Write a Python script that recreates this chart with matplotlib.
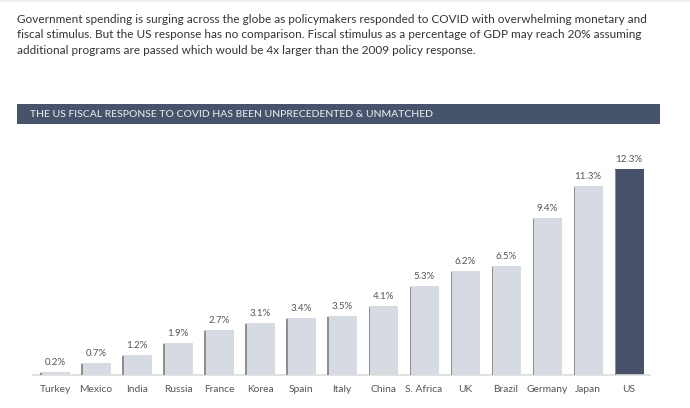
import matplotlib
matplotlib.use("Agg")
import matplotlib.pyplot as plt
from matplotlib.patches import Rectangle

countries = ["Turkey", "Mexico", "India", "Russia", "France", "Korea", "Spain", "Italy",
             "China", "S. Africa", "UK", "Brazil", "Germany", "Japan", "US"]
values = [0.2, 0.7, 1.2, 1.9, 2.7, 3.1, 3.4, 3.5, 4.1, 5.3, 6.2, 6.5, 9.4, 11.3, 12.3]
labels = [f"{v}%" for v in values]

W, H = 690, 408
fig = plt.figure(figsize=(W / 100, H / 100), dpi=100)
fig.patch.set_facecolor("white")
plt.rcParams['font.family'] = ['Lato', 'DejaVu Sans']

# top thin line
fig.add_artist(Rectangle((0, 1 - 2 / H), 1, 2 / H, transform=fig.transFigure,
                         color="#eeeeee", lw=0))

para_lines = [
    "Government spending is surging across the globe as policymakers responded to COVID with overwhelming monetary and",
    "fiscal stimulus. But the US response has no comparison. Fiscal stimulus as a percentage of GDP may reach 20% assuming",
    "additional programs are passed which would be 4x larger than the 2009 policy response.",
]
renderer = fig.canvas.get_renderer()
fs = 9.3
probe = fig.text(0, 0, para_lines[0], fontsize=fs)
w = probe.get_window_extent(renderer).width
probe.remove()
fs = fs * (625 / w)
for k, line in enumerate(para_lines):
    fig.text(17 / W, 1 - (19.5 + k * 15.5) / H, line, ha="left", va="center",
             fontsize=fs, color="#333333")

# banner
fig.add_artist(Rectangle((17 / W, 1 - 124 / H), (660 - 17) / W, 20 / H,
                         transform=fig.transFigure, color="#47536a", lw=0))
fig.text(30 / W, 1 - 114.5 / H, "THE US FISCAL RESPONSE TO COVID HAS BEEN UNPRECEDENTED & UNMATCHED",
         ha="left", va="center", fontsize=7.5, color="#e6e9ee", fontweight="medium")

left, right = 33, 650
base, top = 375, 150
ax = fig.add_axes([left / W, (H - base) / H, (right - left) / W, (base - top) / H])
x = list(range(len(countries)))
colors = ["#d6dae2"] * (len(countries) - 1) + ["#47526a"]
bw = 0.71
ax.bar(x, values, width=bw, color=colors, zorder=2)
ax.bar([i - bw / 2 + 0.02 for i in x], [max(v - 0.06, 0) for v in values], width=0.04,
       color="#8f8f8f", zorder=3)
for i, (v, lab) in enumerate(zip(values, labels)):
    ax.text(i, v + 0.3, lab, ha="center", va="bottom", fontsize=7, color="#555555")
ax.set_xlim(-0.537, 14.51)
ax.set_ylim(0, 225 / 16.75)
ax.set_xticks(x)
ax.set_xticklabels(countries, fontsize=7.4, color="#555555")
ax.tick_params(axis="x", length=0, pad=7)
ax.set_yticks([])
for s in ["top", "right", "left"]:
    ax.spines[s].set_visible(False)
ax.spines["bottom"].set_color("#dddddd")
ax.spines["bottom"].set_linewidth(1.2)
ax.set_facecolor("none")

fig.savefig("out.png", dpi=100)
